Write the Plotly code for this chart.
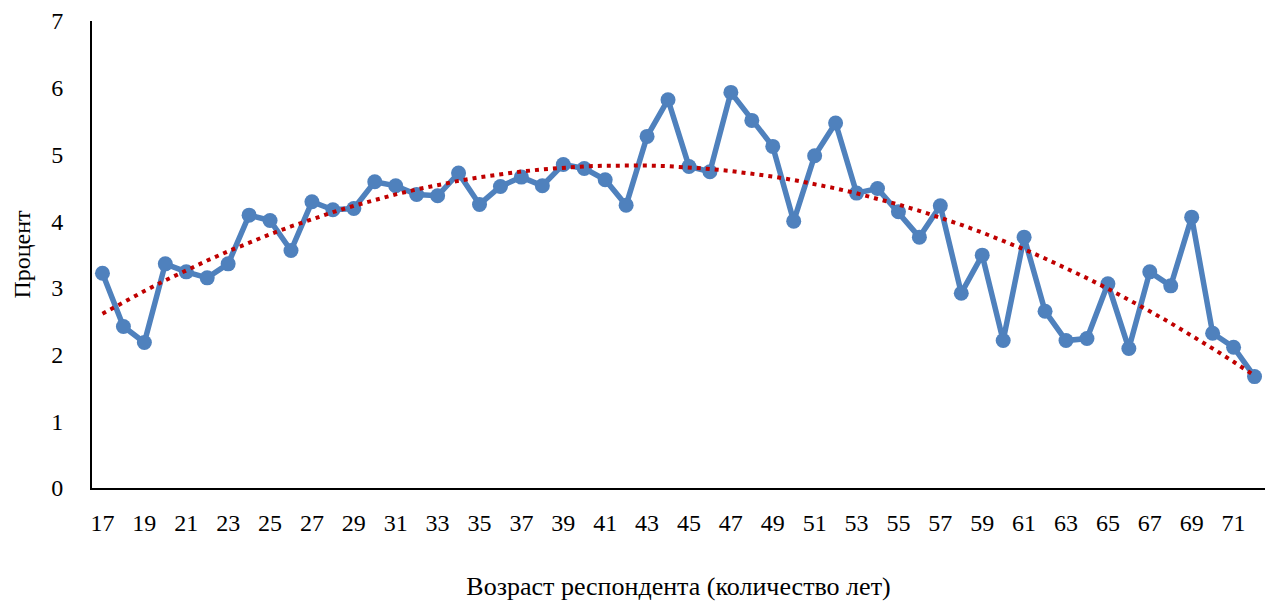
import numpy as np
import plotly.graph_objects as go

# Respondent age (years) and share of respondents (%)
ages = list(range(17, 73))
percent = [
    3.22, 2.42, 2.18, 3.36, 3.24, 3.15, 3.36, 4.09, 4.01, 3.56,
    4.29, 4.17, 4.19, 4.59, 4.53, 4.40, 4.38, 4.72, 4.25, 4.52,
    4.66, 4.53, 4.85, 4.79, 4.62, 4.24, 5.27, 5.82, 4.82, 4.74,
    5.93, 5.51, 5.12, 4.00, 4.98, 5.47, 4.42, 4.49, 4.14, 3.76,
    4.23, 2.92, 3.49, 2.21, 3.76, 2.65, 2.21, 2.24, 3.06, 2.09,
    3.24, 3.03, 4.06, 2.32, 2.11, 1.67,
]
x_tick_labels = list(range(17, 72, 2))
y_tick_labels = list(range(0, 8))

# Second-order polynomial trend
coef = np.polyfit(ages, percent, 2)
trend = np.polyval(coef, ages)

FONT = "Liberation Serif"

fig = go.Figure()
fig.add_trace(go.Scatter(
    x=ages, y=percent, mode="lines+markers",
    line=dict(color="#4F81BD", width=5.5),
    marker=dict(color="#4F81BD", size=15),
    showlegend=False, hoverinfo="x+y",
))
fig.add_trace(go.Scatter(
    x=ages, y=trend, mode="lines",
    line=dict(color="#C00000", width=4, dash="4px,5px"),
    showlegend=False, hoverinfo="skip",
))

fig.update_layout(
    width=1268, height=601,
    margin=dict(l=92, r=3, t=21, b=113),
    paper_bgcolor="white", plot_bgcolor="white",
    font=dict(family=FONT, size=24, color="black"),
    xaxis=dict(
        range=[16.5, 72.5], tickvals=x_tick_labels,
        ticktext=[str(v) for v in x_tick_labels],
        showgrid=False, zeroline=False, showline=True,
        linecolor="black", linewidth=2, ticks="",
        ticklabelstandoff=12, automargin=False,
        tickfont=dict(family=FONT, size=24),
        title=dict(text="Возраст респондента (количество лет)",
                   font=dict(family=FONT, size=26), standoff=44),
    ),
    yaxis=dict(
        range=[0, 7], tickvals=y_tick_labels,
        showgrid=False, zeroline=False, showline=True,
        linecolor="black", linewidth=2, ticks="",
        ticklabelstandoff=22, automargin=False,
        tickfont=dict(family=FONT, size=24),
        title=dict(text="Процент", font=dict(family=FONT, size=24), standoff=14),
    ),
)

fig.write_html("out.html")
